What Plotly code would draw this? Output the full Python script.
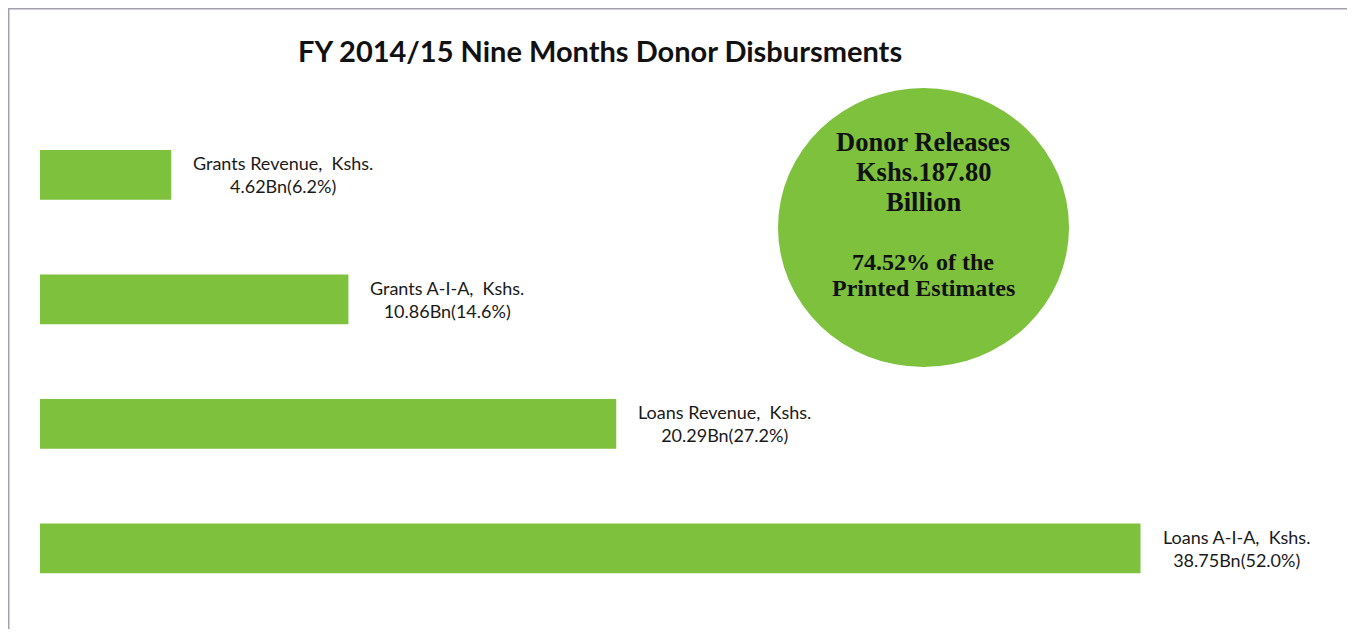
import plotly.graph_objects as go

categories = ["Grants Revenue", "Grants A-I-A", "Loans Revenue", "Loans A-I-A"]
values_bn = [4.62, 10.86, 20.29, 38.75]
shares_pct = [6.2, 14.6, 27.2, 52.0]
title_text = "FY 2014/15 Nine Months Donor Disbursments"
total_lines = ["Donor Releases", "Kshs.187.80", "Billion"]
pct_lines = ["74.52% of the", "Printed Estimates"]

# the page has an 8px body margin; size the figure so no scrollbars appear
OFF = 8
W, H = 1355 - OFF, 637 - 2 * OFF
ML, MR, MT, MB = 32, 37, 30, 6
PW, PH = W - ML - MR, H - MT - MB


def px(x):
    return (x - OFF - ML) / PW


def py(y):
    return 1 - (y - OFF - MT) / PH


GREEN = "#7dc13c"

fig = go.Figure()
fig.add_trace(go.Bar(
    x=values_bn,
    y=list(range(len(categories))),
    orientation="h",
    width=0.4,
    marker=dict(color=GREEN, line=dict(width=0)),
    hoverinfo="skip",
))

annotations = []
for i, (c, v, s) in enumerate(zip(categories, values_bn, shares_pct)):
    annotations.append(dict(
        x=v, y=i, xref="x", yref="y",
        text=f"{c},  Kshs.<br>{v:.2f}Bn({s:.1f}%)",
        showarrow=False, xanchor="left", yanchor="middle", xshift=20,
        align="center",
        font=dict(family="Lato", size=18, color="#1a1a1a"),
    ))

annotations.append(dict(
    x=px(600), y=py(50), xref="paper", yref="paper",
    text=f"<b>{title_text}</b>", showarrow=False,
    xanchor="center", yanchor="middle",
    font=dict(family="Lato", size=29, color="#111111"),
))

for j, line in enumerate(total_lines):
    annotations.append(dict(
        x=px(923), y=py(142 + 30 * j), xref="paper", yref="paper",
        text=f"<b>{line}</b>", showarrow=False,
        xanchor="center", yanchor="middle",
        font=dict(family="Liberation Serif", size=26.5, color="#111111"),
    ))
for j, line in enumerate(pct_lines):
    annotations.append(dict(
        x=px(923), y=py(262 + 26 * j), xref="paper", yref="paper",
        text=f"<b>{line}</b>", showarrow=False,
        xanchor="center", yanchor="middle",
        font=dict(family="Liberation Serif", size=24, color="#111111"),
    ))

shapes = [
    dict(type="circle", xref="paper", yref="paper",
         x0=px(778), x1=px(1069), y0=py(367), y1=py(88),
         fillcolor=GREEN, line=dict(width=0), layer="below"),
    dict(type="rect", xref="paper", yref="paper",
         x0=px(8.75), x1=px(1349), y0=py(700), y1=py(8.75),
         line=dict(color="#a59fae", width=1.5), fillcolor="rgba(0,0,0,0)"),
]

fig.update_layout(
    width=W, height=H,
    margin=dict(l=ML, r=MR, t=MT, b=MB),
    paper_bgcolor="white", plot_bgcolor="white",
    showlegend=False,
    xaxis=dict(range=[0, 45], visible=False),
    yaxis=dict(range=[3.6, -1.1], visible=False),
    annotations=annotations,
    shapes=shapes,
)

fig.write_html("out.html")
